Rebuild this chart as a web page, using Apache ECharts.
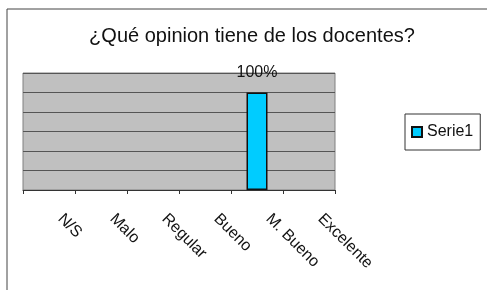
<!DOCTYPE html>
<html>
<head>
<meta charset="utf-8">
<script src="https://cdn.jsdelivr.net/npm/echarts@6/dist/echarts.min.js"></script>
<style>
html,body{margin:0;padding:0;background:#fff;}
#chart{width:487px;height:290px;}
</style>
</head>
<body>
<div id="chart"></div>
<script>
// datos
var categorias = ['N/S', 'Malo', 'Regular', 'Bueno', 'M. Bueno', 'Excelente'];
var serie1 = [0, 0, 0, 0, 100, 0];
var yTicks = [0, 20, 40, 60, 80, 100, 120];

// las barras en cero no se dibujan (sin borde)
var datosBarras = serie1.map(function (v) {
    return v > 0 ? v : {value: v, itemStyle: {borderWidth: 0, opacity: 0}};
});

var chart = echarts.init(document.getElementById('chart'));
var option = {
    backgroundColor: '#fff',
    animation: false,
    title: {
        text: '¿Qué opinion tiene de los docentes?',
        left: 247,
        textAlign: 'center',
        top: 21,
        textStyle: {fontFamily: 'Liberation Sans', fontSize: 20, fontWeight: 'normal', color: '#111'}
    },
    graphic: [{
        type: 'rect',
        shape: {x: 7, y: 9, width: 500, height: 300},
        style: {fill: 'none', stroke: '#444', lineWidth: 1},
        silent: true
    }],
    legend: {
        left: 405, top: 114,
        orient: 'vertical',
        data: ['Serie1'],
        icon: 'rect',
        itemWidth: 10, itemHeight: 10,
        itemGap: 4,
        padding: [10, 7, 10, 6],
        borderColor: '#333', borderWidth: 1,
        textStyle: {fontFamily: 'Liberation Sans', fontSize: 16, color: '#111'}
    },
    grid: {
        left: 23, top: 73, width: 312, height: 117,
        show: true, backgroundColor: '#c0c0c0', borderColor: '#808080', borderWidth: 1
    },
    xAxis: {
        type: 'category',
        data: categorias,
        axisLine: {lineStyle: {color: '#333', width: 1}},
        axisTick: {show: true, length: 4, lineStyle: {color: '#333'}},
        axisLabel: {
            rotate: -45, margin: 15, interval: 0,
            padding: [0, 0, 0, 16],
            fontFamily: 'Liberation Sans', fontSize: 16, color: '#111'
        }
    },
    yAxis: {
        type: 'value',
        min: yTicks[0], max: yTicks[yTicks.length - 1], interval: 20,
        axisLabel: {show: false},
        axisLine: {show: false},
        axisTick: {show: false},
        splitLine: {lineStyle: {color: '#555', width: 1}}
    },
    series: [{
        name: 'Serie1',
        type: 'bar',
        data: datosBarras,
        barWidth: 21,
        itemStyle: {color: '#00ccff', borderColor: '#111', borderWidth: 1.5},
        label: {
            show: true, position: 'top', distance: 12,
            fontFamily: 'Liberation Sans', fontSize: 16, color: '#111',
            formatter: function (p) { return p.value > 0 ? p.value + '%' : ''; }
        }
    }]
};
chart.setOption(option);
</script>
</body>
</html>
